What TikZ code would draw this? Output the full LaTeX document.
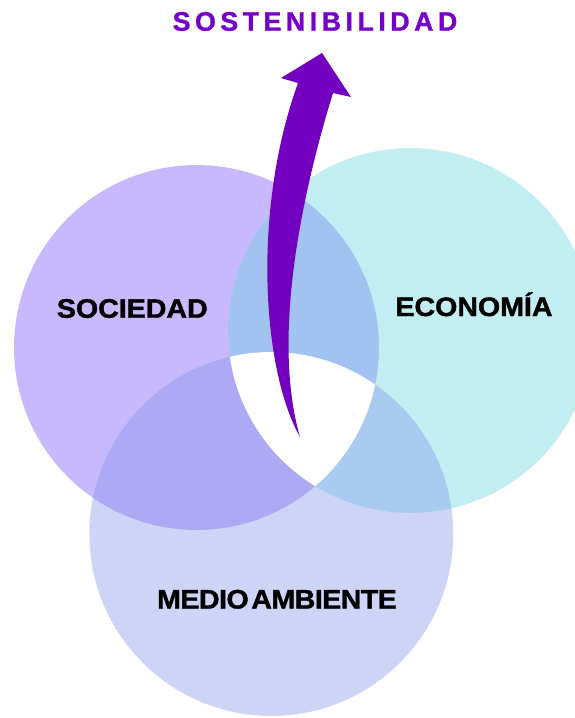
\documentclass[tikz,border=0pt]{standalone}
\usepackage{fontspec}
\setmainfont{Liberation Sans}
\newfontfamily\areafont[FakeStretch=1.07, FakeBold=1.4]{Liberation Sans}
\newfontfamily\titlefont[LetterSpace=17, FakeBold=1.2]{Liberation Sans}
\usetikzlibrary{positioning}

\definecolor{socfill}{HTML}{C8B8FE}
\definecolor{ecofill}{HTML}{C2EEF1}
\definecolor{medfill}{HTML}{CDD4F6}
\definecolor{socecofill}{HTML}{A2C2F2}
\definecolor{socmedfill}{HTML}{ADA9F4}
\definecolor{ecomedfill}{HTML}{AACBF0}
\definecolor{arrowpurple}{HTML}{7200BE}
\definecolor{titlepurple}{HTML}{7700C8}

\def\rsoc{3.65cm}
\def\reco{3.65cm}
\def\rmed{3.64cm}

\begin{document}
\begin{tikzpicture}[
    x=0.02cm, y=-0.02cm,
    areatext/.style={
        font=\areafont\fontsize{15.2}{17}\selectfont\bfseries,
        text=black,
        anchor=base,
        inner sep=0pt
    },
    titletext/.style={
        font=\titlefont\fontsize{15.2}{17}\selectfont\bfseries,
        text=titlepurple,
        anchor=base,
        inner sep=0pt
    }
]
\useasboundingbox (0,0) rectangle (575,718);

\coordinate (soc) at (196.5,347.5);
\coordinate (eco) at (410.5,330.5);
\coordinate (med) at (271.3,534);

% base circles
\fill[socfill] (soc) circle[radius=\rsoc];
\fill[ecofill] (eco) circle[radius=\reco];
\fill[medfill] (med) circle[radius=\rmed];

% overlaps
\begin{scope}
    \clip (soc) circle[radius=\rsoc];
    \fill[socecofill] (eco) circle[radius=\reco];
    \fill[socmedfill] (med) circle[radius=\rmed];
\end{scope}
\begin{scope}
    \clip (eco) circle[radius=\reco];
    \fill[ecomedfill] (med) circle[radius=\rmed];
\end{scope}
\begin{scope}
    \clip (soc) circle[radius=\rsoc];
    \clip (eco) circle[radius=\reco];
    \fill[white] (med) circle[radius=\rmed];
\end{scope}

% arrow
\fill[arrowpurple] (300,437)
    .. controls (262,370) and (252,210) .. (298,83)
    -- (281,78) -- (322,53) -- (351,97) -- (333,93)
    .. controls (300,200) and (272,340) .. (300,437) -- cycle;

\node[titletext] (title) at (315,30.7) {SOSTENIBILIDAD};
\node[areatext] (sociedad) at (132.3,317.7) {SOCIEDAD};
\node[areatext] (economia) at (474,316) {ECONOMÍA};
\node[areatext] (medio) at (277,608.5) {\addfontfeature{LetterSpace=-2}MEDIO\hspace{0.1em}AMBIENTE};

\end{tikzpicture}
\end{document}
